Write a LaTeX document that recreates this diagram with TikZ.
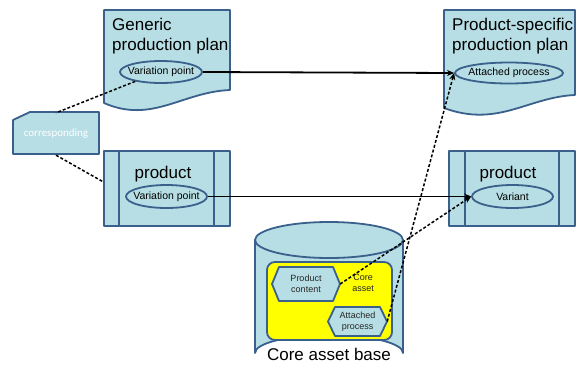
\documentclass[tikz,border=0pt]{standalone}
\usepackage{fontspec}
\setmainfont{Liberation Sans}
\newfontfamily\calib{Carlito}
\usetikzlibrary{arrows.meta,shapes.geometric}
\definecolor{fillc}{RGB}{183,222,228}
\definecolor{bord}{RGB}{58,96,140}
\definecolor{yel}{RGB}{255,255,0}
\begin{document}
\begin{tikzpicture}[x=1pt,y=-1pt,
  shapeline/.style={draw=bord,line width=1.8pt,fill=fillc,line join=round},
  oval/.style={ellipse,shapeline,inner sep=0pt,font=\fontsize{10.5}{12}\selectfont},
  title/.style={font=\fontsize{17}{20}\selectfont,inner sep=0pt},
  small/.style={font=\fontsize{9}{11}\selectfont,align=center,inner sep=0pt,text=black!85},
  solidarr/.style={line width=1.8pt,-{Stealth[length=7pt,width=6pt]}},
  dashline/.style={line width=1.5pt,dash pattern=on 3pt off 2pt},
  dasharr/.style={dashline,-{Stealth[length=7pt,width=6pt]}}
]
\useasboundingbox (0,0) rectangle (577,372);

% Generic production plan (document shape)
\path[shapeline] (104,10) -- (230,10) -- (230,90)
  .. controls (182,92) and (152,124) .. (104,103) -- cycle;
\node[title,anchor=north west,align=left] (gtitle) at (112,17.5) {Generic\\production plan};
\node[oval,minimum width=82pt,minimum height=22pt] (vp1) at (161,72) {\makebox[0pt]{Variation point}};

% Product-specific production plan
\path[shapeline] (444,10) -- (575,10) -- (575,95)
  .. controls (528,97) and (498,128) .. (444,108) -- cycle;
\node[title,anchor=north west,align=left] (ptitle) at (452,17.5) {Product-specific\\production plan};
\node[oval,minimum width=108pt,minimum height=21pt] (ap1) at (509,73) {\makebox[0pt]{Attached process}};

% corresponding
\path[shapeline] (13,120) -- (30,112) -- (99,112) -- (99,154) -- (13,154) -- cycle;
\node[minimum width=86pt,minimum height=42pt,text=white,font=\calib\fontsize{11}{13}\selectfont] (corr) at (56,134) {corresponding};

% left product
\node[shapeline,rectangle,minimum width=126pt,minimum height=75pt] (p1) at (167,188.5) {};
\draw[draw=bord,line width=1.8pt] (119,151) -- (119,226) (214,151) -- (214,226);
\node[title,anchor=base] (p1t) at (163,178) {product};
\node[oval,minimum width=81pt,minimum height=23pt] (vp2) at (166.5,196.5) {\makebox[0pt]{Variation point}};

% right product
\node[shapeline,rectangle,minimum width=126pt,minimum height=75pt] (p2) at (512,188.5) {};
\draw[draw=bord,line width=1.8pt] (465,151) -- (465,226) (559,151) -- (559,226);
\node[title,anchor=base] (p2t) at (508,178) {product};
\node[oval,minimum width=81pt,minimum height=23pt] (var) at (512.5,196.5) {\makebox[0pt]{Variant}};

% Core asset base cylinder
\path[shapeline] (255,240) -- (255,353) arc[start angle=180,end angle=0,x radius=74,y radius=-18] -- (403,240) -- cycle;
\path[shapeline] (329,240) ellipse[x radius=74,y radius=18];
\node[title,anchor=base] (cab) at (329,360) {Core asset base};

% yellow core asset
\path[draw=bord,line width=1.8pt,fill=yel,rounded corners=8pt] (267,262) rectangle (392,340);
\node[small] (ca) at (363,283) {Core\\asset};

% hexagons
\path[shapeline] (272,284) -- (279,267) -- (333,267) -- (340,284) -- (333,301) -- (279,301) -- cycle;
\node[small,minimum width=68pt,minimum height=34pt] (pc) at (306,284) {Product\\content};
\path[shapeline] (328,321.5) -- (335,307) -- (380,307) -- (387,321.5) -- (380,336) -- (335,336) -- cycle;
\node[small,minimum width=59pt,minimum height=29pt] (ap2) at (357.5,321.5) {Attached\\process};

% connectors
\draw[solidarr] (vp1.east) -- (ap1.west);
\draw[solidarr] (vp2.east) -- (var.west);
\draw[dashline] (vp1.200) -- (corr.north);
\draw[dashline] (corr.south) -- (p1.174);
\draw[dasharr] (pc.east) -- (var.west);
\draw[dasharr] (ap2.east) -- (ap1.west);
\end{tikzpicture}
\end{document}
